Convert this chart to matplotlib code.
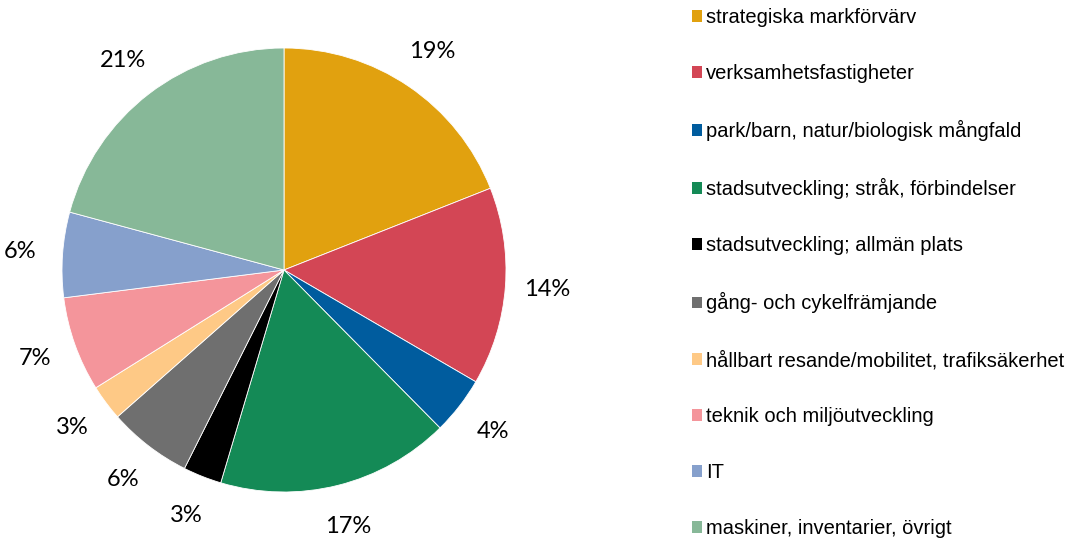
import matplotlib
matplotlib.use("Agg")
import matplotlib.pyplot as plt
from matplotlib.patches import Patch

categories = [
    "strategiska markförvärv",
    "verksamhetsfastigheter",
    "park/barn, natur/biologisk mångfald",
    "stadsutveckling; stråk, förbindelser",
    "stadsutveckling; allmän plats",
    "gång- och cykelfrämjande",
    "hållbart resande/mobilitet, trafiksäkerhet",
    "teknik och miljöutveckling",
    "IT",
    "maskiner, inventarier, övrigt",
]
values = [19.0, 14.4, 4.2, 17.0, 2.8, 6.1, 2.6, 6.9, 6.2, 20.8]
colors = ["#E1A10F", "#D34655", "#005C9E", "#148A56", "#000000",
          "#6F6F6F", "#FEC986", "#F4959B", "#86A0CC", "#87B898"]

W, H = 1087, 541
fig = plt.figure(figsize=(W / 100, H / 100), dpi=100)
cx, cy, r = 284, 270, 222
ax = fig.add_axes([(cx - r) / W, (H - cy - r) / H, 2 * r / W, 2 * r / H])

wedges, texts, autotexts = ax.pie(
    values, colors=colors, startangle=90, counterclock=False,
    autopct=lambda p: f"{p:.0f}%", pctdistance=1.19,
    wedgeprops=dict(edgecolor="white", linewidth=0.6),
    textprops=dict(fontsize=17, family="Lato", color="black"),
)
for t in autotexts:
    t.set_clip_on(False)
ax.set_xlim(-1, 1)
ax.set_ylim(-1, 1)
ax.set_aspect("equal")

handles = [Patch(facecolor=c, edgecolor="none") for c in colors]
leg = fig.legend(handles, categories, loc="upper left",
                 bbox_to_anchor=(692 / W, 1 - 8 / H), frameon=False,
                 prop=dict(family="Liberation Sans", size=14.5),
                 handlelength=0.5, handleheight=0.5, handletextpad=0.2,
                 labelspacing=1.84, borderaxespad=0, borderpad=0)

fig.savefig("out.png", dpi=100, facecolor="white")
